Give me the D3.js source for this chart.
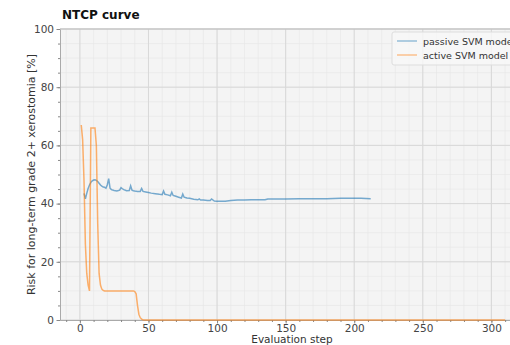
<!DOCTYPE html>
<html>
<head>
<meta charset="utf-8">
<script src="https://cdn.jsdelivr.net/npm/d3@7"></script>
<style>
  body { margin: 0; background: #fff; }
  svg { font-family: "DejaVu Sans", sans-serif; }
</style>
</head>
<body>
<svg width="510" height="345"></svg>
<script>
// passive SVM model (blue)
var passiveSteps = [3, 4, 5, 6, 7, 8, 9, 10, 11, 12, 13, 14, 15, 16, 17, 18, 19, 20, 21, 22, 23, 25, 27, 29, 30, 31, 32, 34, 36, 37, 38, 39, 40, 42, 44, 45, 46, 48, 50, 52, 55, 58, 60, 61, 62, 64, 66, 67, 68, 70, 72, 74, 75, 76, 78, 80, 83, 86, 87, 88, 90, 93, 95, 96, 98, 100, 103, 106, 110, 115, 120, 125, 130, 135, 137, 140, 150, 160, 170, 180, 190, 200, 205, 212];
var passiveRisk  = [43.5, 41.6, 43.5, 45.2, 46.4, 47.3, 47.8, 48.1, 48.2, 48.0, 47.6, 47.0, 46.4, 46.0, 45.7, 45.6, 45.3, 46.5, 48.6, 45.3, 44.8, 44.5, 44.3, 44.6, 45.5, 45.1, 44.8, 44.4, 44.5, 46.1, 44.6, 44.4, 44.3, 44.2, 44.2, 45.2, 44.2, 44.0, 43.8, 43.6, 43.4, 43.2, 43.1, 44.3, 43.2, 43.0, 42.7, 43.9, 42.8, 42.5, 42.2, 41.9, 43.3, 42.2, 41.9, 41.8, 41.5, 41.3, 41.6, 41.2, 41.2, 41.1, 41.1, 41.6, 40.9, 40.8, 40.8, 40.8, 41.1, 41.2, 41.2, 41.3, 41.3, 41.3, 41.6, 41.6, 41.6, 41.7, 41.7, 41.7, 41.8, 41.8, 41.8, 41.7];

// active SVM model (orange)
var activeSteps = [1, 2, 3, 4, 5, 6, 7, 8, 9, 10, 11, 12, 13, 14, 15, 16, 17, 18, 20, 25, 30, 35, 39, 40, 41, 42, 43, 44, 45, 46, 47, 50, 100, 200, 310];
var activeRisk  = [67, 62, 48, 26, 16, 12, 10, 66, 66, 66, 66, 60, 33, 16, 12, 10.6, 10.2, 10, 10, 10, 10, 10, 10, 9.8, 9, 5, 2, 0.8, 0.3, 0.1, 0, 0, 0, 0, 0];

var xTicks = [0, 50, 100, 150, 200, 250, 300];
var yTicks = [0, 20, 40, 60, 80, 100];
var seriesNames = ["passive SVM model", "active SVM model"];
var seriesColors = ["#1f77b4", "#ff7f0e"];

var margin = {left: 60, top: 29, right: -15, bottom: 25};
var width = 510, height = 345;
var svg = d3.select("svg");

var x = d3.scaleLinear().domain([-14.5, 324.5]).range([margin.left, width - margin.right]);
var y = d3.scaleLinear().domain([0, 100]).range([height - margin.bottom, margin.top]);

var plotW = x.range()[1] - x.range()[0];
var plotH = y.range()[0] - y.range()[1];

svg.append("rect")
  .attr("x", margin.left).attr("y", margin.top)
  .attr("width", plotW).attr("height", plotH)
  .attr("fill", "#f4f4f4");

// minor grid
var xMinor = d3.range(-10, 325, 10);
var yMinor = d3.range(0, 101, 5);
svg.append("g").selectAll("line").data(xMinor).enter().append("line")
  .attr("x1", function(d){ return x(d); }).attr("x2", function(d){ return x(d); })
  .attr("y1", y(0)).attr("y2", y(100))
  .attr("stroke", "#e6e6e6").attr("stroke-width", 0.6);
svg.append("g").selectAll("line").data(yMinor).enter().append("line")
  .attr("y1", function(d){ return y(d); }).attr("y2", function(d){ return y(d); })
  .attr("x1", x.range()[0]).attr("x2", x.range()[1])
  .attr("stroke", "#e6e6e6").attr("stroke-width", 0.6);

// major grid
svg.append("g").selectAll("line").data(xTicks).enter().append("line")
  .attr("x1", function(d){ return x(d); }).attr("x2", function(d){ return x(d); })
  .attr("y1", y(0)).attr("y2", y(100))
  .attr("stroke", "#d8d8d8").attr("stroke-width", 1);
svg.append("g").selectAll("line").data(yTicks).enter().append("line")
  .attr("y1", function(d){ return y(d); }).attr("y2", function(d){ return y(d); })
  .attr("x1", x.range()[0]).attr("x2", x.range()[1])
  .attr("stroke", "#d8d8d8").attr("stroke-width", 1);

// axes
var xAxis = svg.append("g").attr("transform", "translate(0," + y(0) + ")")
  .call(d3.axisBottom(x).tickValues(xTicks).tickSize(3.5).tickPadding(1).tickSizeOuter(0));
var xMinorAxis = svg.append("g").attr("transform", "translate(0," + y(0) + ")")
  .call(d3.axisBottom(x).tickValues(xMinor).tickSize(2).tickFormat("").tickSizeOuter(0));
var yAxis = svg.append("g").attr("transform", "translate(" + margin.left + ",0)")
  .call(d3.axisLeft(y).tickValues(yTicks).tickSize(3.5).tickPadding(2.5).tickSizeOuter(0));
var yMinorAxis = svg.append("g").attr("transform", "translate(" + margin.left + ",0)")
  .call(d3.axisLeft(y).tickValues(yMinor).tickSize(2).tickFormat("").tickSizeOuter(0));

[xAxis, xMinorAxis, yAxis, yMinorAxis].forEach(function(g){
  g.selectAll("path").attr("stroke", "#aaa");
  g.selectAll("line").attr("stroke", "#888");
  g.selectAll("text").attr("font-size", 10.5).attr("fill", "#444")
    .attr("font-family", "DejaVu Sans, sans-serif");
});

// top spine
svg.append("line")
  .attr("x1", x.range()[0]).attr("x2", x.range()[1])
  .attr("y1", y(100)).attr("y2", y(100))
  .attr("stroke", "#bbb");

// lines
var passiveData = passiveSteps.map(function(s, i){ return [s, passiveRisk[i]]; });
var activeData = activeSteps.map(function(s, i){ return [s, activeRisk[i]]; });
var line = d3.line().x(function(d){ return x(d[0]); }).y(function(d){ return y(d[1]); });

svg.append("path").datum(passiveData)
  .attr("d", line).attr("fill", "none")
  .attr("stroke", seriesColors[0]).attr("stroke-opacity", 0.6).attr("stroke-width", 1.5);
svg.append("path").datum(activeData)
  .attr("d", line).attr("fill", "none")
  .attr("stroke", seriesColors[1]).attr("stroke-opacity", 0.6).attr("stroke-width", 1.5);

// legend (cut by the right edge, as in the original)
var legend = svg.append("g").attr("transform", "translate(392,32)");
legend.append("rect")
  .attr("width", 140).attr("height", 33).attr("rx", 2)
  .attr("fill", "#f8f8f8").attr("fill-opacity", 0.8)
  .attr("stroke", "#ddd");
seriesNames.forEach(function(name, i){
  var row = legend.append("g").attr("transform", "translate(0," + (9 + i * 14) + ")");
  row.append("line").attr("x1", 5).attr("x2", 25).attr("y1", 0).attr("y2", 0)
    .attr("stroke", seriesColors[i]).attr("stroke-opacity", 0.45).attr("stroke-width", 1.5);
  row.append("text").attr("x", 31).attr("y", 3.5)
    .attr("font-size", 9.5).attr("fill", "#333").text(name);
});

// labels
svg.append("text").attr("x", 62).attr("y", 19)
  .attr("font-size", 12).attr("font-weight", "bold").attr("fill", "#111")
  .text("NTCP curve");
svg.append("text").attr("x", 292).attr("y", 343)
  .attr("text-anchor", "middle").attr("font-size", 10.5).attr("fill", "#333")
  .text("Evaluation step");
svg.append("text")
  .attr("transform", "translate(35," + ((y(0) + y(100)) / 2) + ") rotate(-90)")
  .attr("text-anchor", "middle").attr("font-size", 11).attr("fill", "#333")
  .text("Risk for long-term grade 2+ xerostomia [%]");
</script>
</body>
</html>
